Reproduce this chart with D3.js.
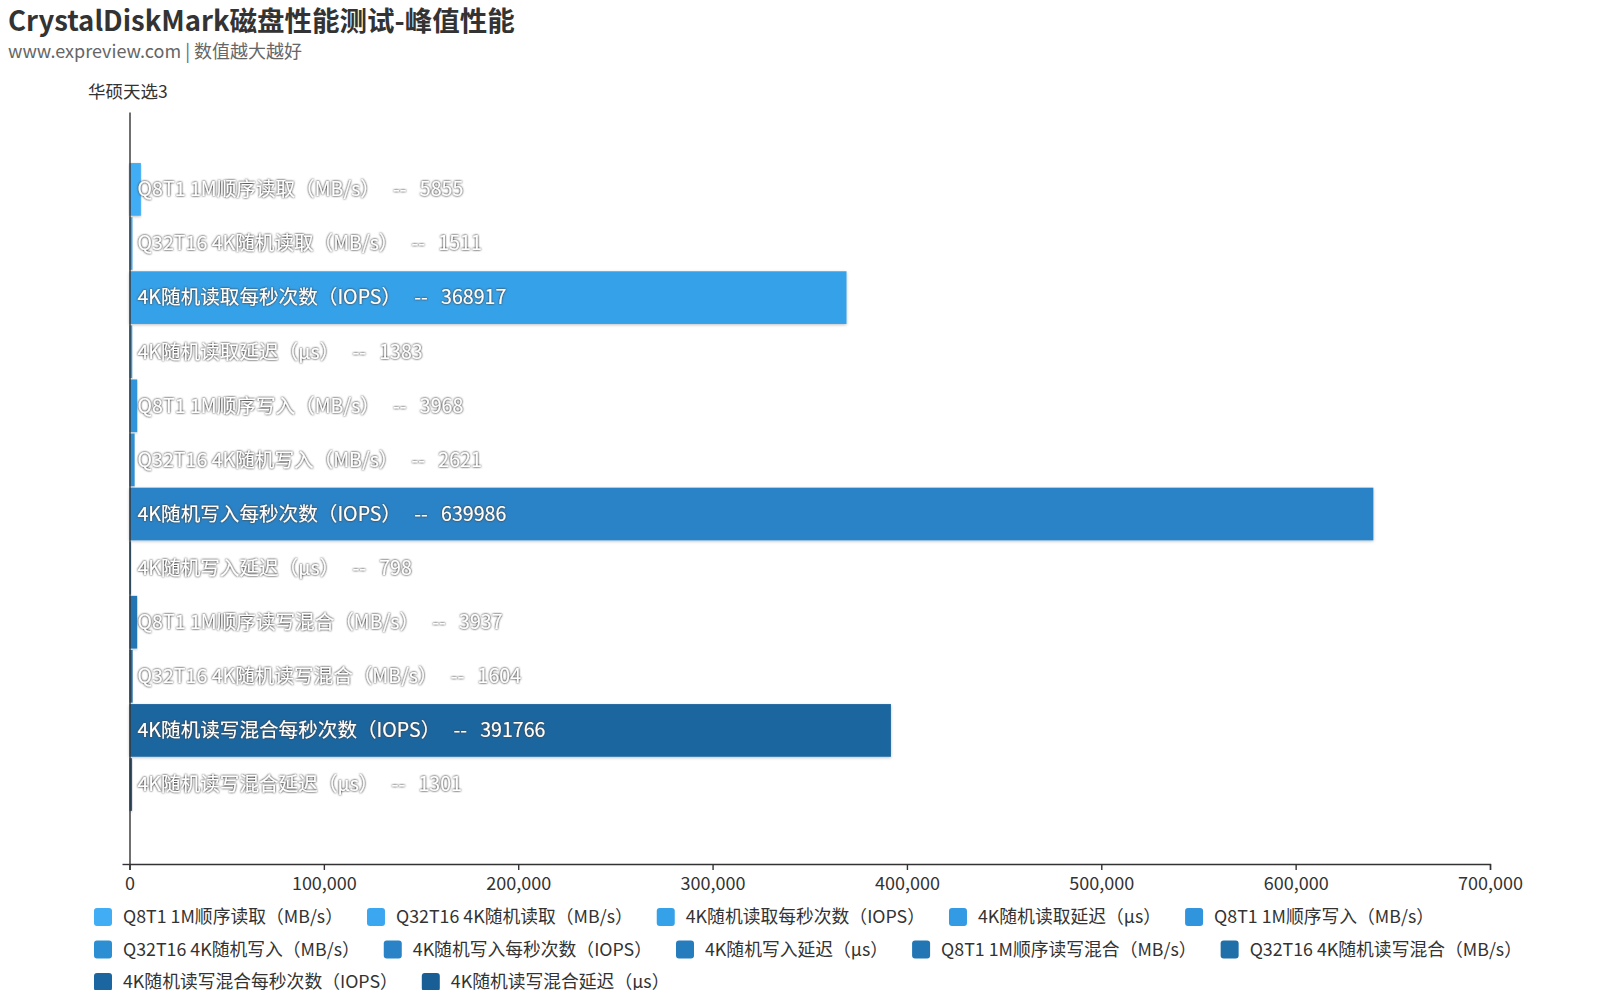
<!DOCTYPE html>
<html>
<head>
<meta charset="utf-8">
<script src="https://cdn.jsdelivr.net/npm/d3@7"></script>
<style>
  body { margin: 0; background: #fff; }
  text { font-family: "Microsoft YaHei", "Noto Sans CJK SC", sans-serif; }
</style>
</head>
<body>
<div class="chart"></div>
<script>
var svgWidth = 1620;
var svgHeight = 990;

// data
var categories = [
  "Q8T1 1M顺序读取（MB/s）",
  "Q32T16 4K随机读取（MB/s）",
  "4K随机读取每秒次数（IOPS）",
  "4K随机读取延迟（μs）",
  "Q8T1 1M顺序写入（MB/s）",
  "Q32T16 4K随机写入（MB/s）",
  "4K随机写入每秒次数（IOPS）",
  "4K随机写入延迟（μs）",
  "Q8T1 1M顺序读写混合（MB/s）",
  "Q32T16 4K随机读写混合（MB/s）",
  "4K随机读写混合每秒次数（IOPS）",
  "4K随机读写混合延迟（μs）"
];
var values = [5855, 1511, 368917, 1383, 3968, 2621, 639986, 798, 3937, 1604, 391766, 1301];
var colors = ["#40adf5", "#3ba7f0", "#35a1e9", "#339be3", "#3095dc", "#2d8fd3",
              "#2983c6", "#267dbd", "#2276b3", "#1f6fa9", "#1b66a0", "#195f96"];
var xTicks = [0, 100000, 200000, 300000, 400000, 500000, 600000, 700000];
var seriesName = "华硕天选3";

var margin = {top: 112, left: 129.5, right: 130, bottom: 126};
var width = svgWidth - margin.left - margin.right;
var height = svgHeight - margin.top - margin.bottom;

var svg = d3.select(".chart")
  .append("svg")
  .attr("width", svgWidth)
  .attr("height", svgHeight);

// outline-ish shadow for labels, soft shadow for bars
var defs = svg.append("defs");
var tf = defs.append("filter").attr("id", "txtShadow")
  .attr("x", "-5%").attr("y", "-40%").attr("width", "110%").attr("height", "180%");
tf.append("feGaussianBlur").attr("in", "SourceAlpha").attr("stdDeviation", 1.3).attr("result", "blur");
tf.append("feComponentTransfer").attr("in", "blur").attr("result", "blurA")
  .append("feFuncA").attr("type", "linear").attr("slope", 1.5);
tf.append("feFlood").attr("flood-color", "#444").attr("result", "col");
tf.append("feComposite").attr("in", "col").attr("in2", "blurA").attr("operator", "in").attr("result", "shadow");
var tm = tf.append("feMerge");
tm.append("feMergeNode").attr("in", "shadow");
tm.append("feMergeNode").attr("in", "SourceGraphic");

defs.append("filter").attr("id", "barShadow")
  .attr("x", "-5%").attr("y", "-20%").attr("width", "110%").attr("height", "140%")
  .append("feDropShadow")
  .attr("dx", 0).attr("dy", 1).attr("stdDeviation", 1.5)
  .attr("flood-color", "#000").attr("flood-opacity", 0.25);

// titles
svg.append("text")
  .attr("x", 8).attr("y", 31)
  .attr("font-size", 27.5).attr("font-weight", "bold").attr("fill", "#333")
  .text("CrystalDiskMark磁盘性能测试-峰值性能");

svg.append("text")
  .attr("x", 8).attr("y", 58)
  .attr("font-size", 18).attr("fill", "#666")
  .text("www.expreview.com | 数值越大越好");

svg.append("text")
  .attr("x", 88).attr("y", 98)
  .attr("font-size", 17.5).attr("fill", "#333")
  .text(seriesName);

var chartGroup = svg.append("g")
  .attr("transform", `translate(${margin.left}, ${margin.top})`);

// scales
var xLinearScale = d3.scaleLinear()
  .domain([0, 700000])
  .range([0, width]);

var yBandScale = d3.scaleBand()
  .domain(categories)
  .range([0, height])
  .paddingInner(0.026)
  .paddingOuter(0.963)
  .align(0.49);

// bars
chartGroup.selectAll("rect.bar")
  .data(values)
  .enter()
  .append("rect")
  .attr("class", "bar")
  .attr("x", 0)
  .attr("y", (d, i) => yBandScale(categories[i]))
  .attr("width", d => xLinearScale(d))
  .attr("height", yBandScale.bandwidth())
  .attr("fill", (d, i) => colors[i])
  .attr("filter", "url(#barShadow)");

// axes
var bottomAxis = d3.axisBottom(xLinearScale)
  .tickValues(xTicks)
  .tickFormat(d3.format(","))
  .tickSizeOuter(0)
  .tickSize(6);

var xAxisG = chartGroup.append("g")
  .attr("transform", `translate(0, ${height})`)
  .call(bottomAxis);
xAxisG.select(".domain").attr("stroke", "#333").attr("stroke-width", 1.4);
xAxisG.selectAll(".tick line").attr("stroke", "#333").attr("stroke-width", 1.4);
xAxisG.selectAll(".tick text")
  .attr("font-size", 18).attr("fill", "#333").attr("y", 13)
  .style("font-family", "\"Microsoft YaHei\", \"Noto Sans CJK SC\", sans-serif");
// small overhang of the x axis to the left of zero
xAxisG.append("line")
  .attr("x1", -7).attr("x2", 0).attr("y1", 0.5).attr("y2", 0.5)
  .attr("stroke", "#333").attr("stroke-width", 1.4);

var leftAxis = d3.axisLeft(yBandScale).tickSize(0).tickSizeOuter(0).tickFormat("");
var yAxisG = chartGroup.append("g").call(leftAxis);
yAxisG.select(".domain").attr("stroke", "#333").attr("stroke-width", 1.4);

// labels on the bars
chartGroup.selectAll("text.barLabel")
  .data(values)
  .enter()
  .append("text")
  .attr("class", "barLabel")
  .attr("x", 8)
  .attr("y", (d, i) => yBandScale(categories[i]) + yBandScale.bandwidth() / 2)
  .attr("dy", "0.35em")
  .attr("font-size", 19.6)
  .attr("fill", "#fff")
  .attr("filter", "url(#txtShadow)")
  .attr("xml:space", "preserve")
  .style("white-space", "pre")
  .text((d, i) => `${categories[i]}   --   ${d}`);

// legend, flowing in rows
var legend = svg.append("g").attr("class", "legend");
var lx = 94, ly = 917, rowH = 32.5, maxX = 1575;
categories.forEach(function(name, i) {
  var item = legend.append("g");
  item.append("rect")
    .attr("width", 18).attr("height", 18)
    .attr("rx", 3).attr("ry", 3)
    .attr("y", -9)
    .attr("fill", colors[i]);
  var t = item.append("text")
    .attr("x", 29).attr("dy", "0.35em")
    .attr("font-size", 17.8).attr("fill", "#333")
    .text(name);
  var w = 29 + t.node().getComputedTextLength();
  if (lx + w > maxX) {
    lx = 94;
    ly += rowH;
  }
  item.attr("transform", `translate(${lx}, ${ly})`);
  lx += w + 24;
});
</script>
</body>
</html>
